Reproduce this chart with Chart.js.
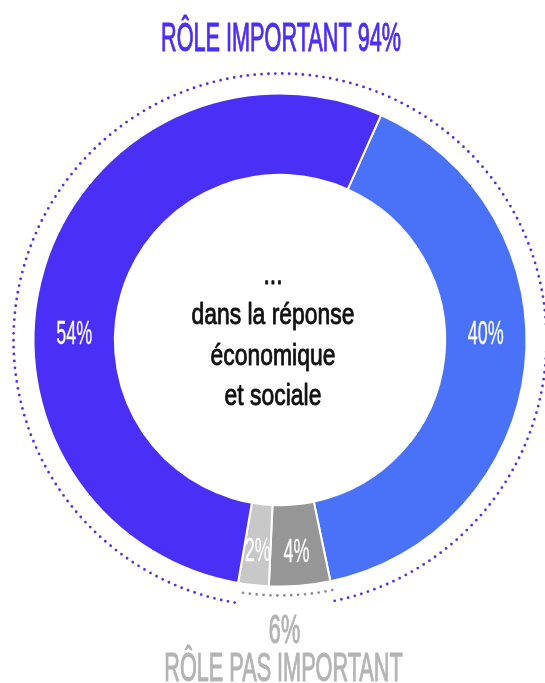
<!DOCTYPE html>
<html>
<head>
<meta charset="utf-8">
<script src="https://cdn.jsdelivr.net/npm/chart.js@4.4.0/dist/chart.umd.min.js"></script>
<style>
  html, body { margin: 0; padding: 0; background: #fff; }
  canvas { display: block; }
</style>
</head>
<body>
<canvas id="myChart" width="545" height="683"></canvas>
<script>
// ring parts, clockwise from the top split
const values = [40, 4, 2, 54];
const groupOf = [0, 1, 1, 0];
const groups = ['RÔLE IMPORTANT', 'RÔLE PAS IMPORTANT'];
const centerLines = ['...', 'dans la réponse', 'économique', 'et sociale'];

const colors = ['#4a72f8', '#969696', '#c8c8c8', '#4a2ff7'];
const groupColors = ['#4a2ff7', '#b4b4b4'];
const dotColors = ['#4a2ff7', '#8f8f8f'];
const dotGap = [20, 9];

const FONT = "'Liberation Sans', Arial, sans-serif";

const totals = groups.map((g, gi) =>
  values.reduce((s, v, j) => s + (groupOf[j] === gi ? v : 0), 0));
const titleText = groups[0] + ' ' + totals[0] + '%';

const setFont = (ctx, size) => {
  ctx.font = 'normal ' + size + 'px ' + FONT;
};

// how much a text style has to be narrowed to look condensed
const squeezeFor = (ctx, sample, size, width) => {
  setFont(ctx, size);
  return width / ctx.measureText(sample).width;
};

const drawText = (ctx, text, x, y, st, color) => {
  ctx.save();
  setFont(ctx, st.size);
  ctx.translate(x, y);
  ctx.scale(st.squeeze, 1);
  ctx.fillStyle = color;
  ctx.textAlign = 'center';
  ctx.textBaseline = 'alphabetic';
  ctx.fillText(text, 0, 0);
  if (st.stroke) {
    ctx.strokeStyle = color;
    ctx.lineWidth = st.stroke;
    ctx.lineJoin = 'round';
    ctx.strokeText(text, 0, 0);
  }
  ctx.restore();
};

// dotted arcs around each group of parts
const dottedRings = {
  id: 'dottedRings',
  afterDatasetsDraw(chart) {
    const ctx = chart.ctx;
    const arcs = chart.getDatasetMeta(0).data;
    const n = arcs.length;
    const k = groupOf.findIndex((g, i) => g !== groupOf[(i + n - 1) % n]);
    let i = 0;
    while (i < n) {
      const first = arcs[(k + i) % n];
      const g = groupOf[(k + i) % n];
      let sweep = 0;
      while (i < n && groupOf[(k + i) % n] === g) {
        const a = arcs[(k + i) % n];
        sweep += a.endAngle - a.startAngle;
        i++;
      }
      ctx.save();
      ctx.beginPath();
      ctx.arc(first.x, first.y, first.outerRadius + dotGap[g], first.startAngle, first.startAngle + sweep);
      ctx.strokeStyle = dotColors[g];
      ctx.lineWidth = 2.8;
      ctx.lineCap = 'round';
      ctx.setLineDash([0, 6.9]);
      ctx.stroke();
      ctx.restore();
    }
  }
};

// value labels, titles and the centre text
const texts = {
  id: 'texts',
  afterDraw(chart) {
    const ctx = chart.ctx;
    const head = { size: 41, stroke: 1.1 };
    head.squeeze = squeezeFor(ctx, 'RÔLE IMPORTANT 94%', head.size, 240);
    const label = { size: 33, stroke: 0.3 };
    label.squeeze = squeezeFor(ctx, '54%', label.size, 36);
    const mid = { size: 30, stroke: 0.9 };
    mid.squeeze = squeezeFor(ctx, 'dans la réponse', mid.size, 163);

    const arcs = chart.getDatasetMeta(0).data;
    arcs.forEach((a, i) => {
      const midR = (a.innerRadius + a.outerRadius) / 2;
      let ang = (a.startAngle + a.endAngle) / 2;
      let lift = 5;
      [0, Math.PI, 2 * Math.PI].forEach(h => {
        if (a.startAngle < h && a.endAngle > h) { ang = h; lift = -8; }
      });
      const px = a.x + Math.cos(ang) * midR;
      const py = a.y + Math.sin(ang) * midR + lift;
      drawText(ctx, values[i] + '%', px, py + 11.5, label, '#fff');
    });

    const cx = arcs[0].x, cy = arcs[0].y;
    centerLines.forEach((line, i) => {
      drawText(ctx, line, cx - 7, cy - 56 + i * 40.3, mid, '#111');
    });

    drawText(ctx, titleText, 281, 50.7, head, groupColors[0]);
    drawText(ctx, totals[1] + '%', 284.5, 643, head, groupColors[1]);
    drawText(ctx, groups[1], 283.5, 681, head, groupColors[1]);
  }
};

new Chart(document.getElementById('myChart'), {
  type: 'doughnut',
  data: {
    labels: values.map(v => v + '%'),
    datasets: [{
      data: values,
      backgroundColor: colors,
      borderColor: '#fff',
      borderWidth: 2,
      hoverOffset: 0
    }]
  },
  options: {
    responsive: false,
    animation: false,
    rotation: 24.2,
    cutout: '67%',
    layout: { padding: { left: 32.5, right: 17.5, top: 92.5, bottom: 95.5 } },
    events: [],
    plugins: {
      legend: { display: false },
      tooltip: { enabled: false }
    }
  },
  plugins: [dottedRings, texts]
});
</script>
</body>
</html>
